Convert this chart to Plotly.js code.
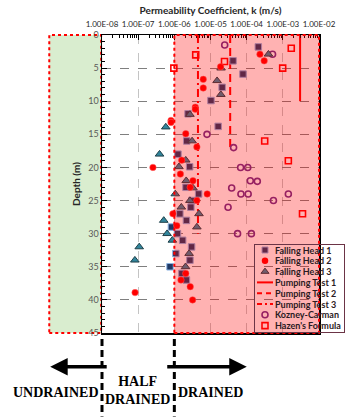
<!DOCTYPE html>
<html>
<head>
<meta charset="utf-8">
<script src="https://cdn.plot.ly/plotly-3.0.1.min.js"></script>
<style>html,body{margin:0;padding:0;background:#fff;}#chart{width:364px;height:418px;}</style>
</head>
<body>
<div id="chart"></div>
<script>
// ---- data ----
var fh1K = [2.1e-4, 4.2e-5, 7.9e-5, 2.1e-5, 1.03e-5, 2.4e-6, 1.63e-5, 2.2e-6, 1.26e-6, 2.65e-6, 2.1e-6, 4.7e-6, 3.05e-6, 2.86e-6, 1.42e-6, 2.16e-6, 8.3e-7, 1.22e-6, 1.7e-6, 3.0e-6, 1.1e-6, 2.7e-6, 7.6e-7, 1.62e-6, 2.16e-6];
var fh1Depth = [1.8, 3.9, 5.9, 7.9, 9.9, 11.9, 13.8, 16, 18, 19.9, 23, 24, 25, 26, 27, 28, 29, 30, 31, 32, 33, 34, 35, 36, 37];

var fh2K = [2.33e-4, 3.05e-4, 1.9e-5, 6.3e-6, 6.3e-6, 3.8e-6, 3.8e-6, 8.1e-7, 8.1e-7, 2.07e-6, 4.2e-6, 1.6e-6, 2.56e-7, 1.47e-6, 3.27e-6, 2.75e-6, 8.1e-6, 4.2e-6, 9.1e-7, 1.17e-6, 2.07e-6, 1.53e-6, 2.75e-6, 8.2e-8, 3.2e-6];
var fh2Depth = [2.9, 3.9, 4.8, 6.7, 8.0, 10.9, 11.2, 12.9, 13.2, 14.9, 16.9, 18.9, 20, 21, 22, 23, 24, 25, 27, 28.8, 36, 37, 38, 38.9, 40];

var fh3K = [4.0e-4, 1.96e-5, 1.52e-5, 1.93e-5, 2.7e-6, 5.8e-7, 3.1e-6, 3.9e-7, 2.07e-6, 1.34e-6, 2.13e-6, 3.27e-6, 1.06e-6, 2.7e-6, 1.56e-6, 4.8e-6, 5.1e-7, 4.2e-6, 6.3e-7, 8.8e-7, 1.07e-7, 2.56e-6, 8.1e-8, 2.04e-6];
var fh3Depth = [2.9, 5.0, 6.9, 9.0, 12.0, 13.9, 16, 18, 18.9, 19.9, 22, 23.1, 24, 25, 26, 27, 28, 29, 30, 31, 32, 33, 34, 35];

var pt1K = [3.0e-3, 3.0e-3];
var pt1Depth = [0, 10];
var pt2K = [3.5e-5, 3.5e-5];
var pt2Depth = [0, 17];
var pt3K = [4.5e-6, 4.5e-6];
var pt3Depth = [0, 30];

var kcK = [2.47e-5, 5.2e-4, 8.0e-6, 4.35e-5, 6.8e-5, 1.07e-4, 1.26e-4, 1.97e-4, 3.85e-5, 6.95e-5, 1.1e-4, 1.42e-3, 5.5e-4, 3.06e-5, 5.6e-5, 1.35e-4];
var kcDepth = [1.5, 2.9, 15, 17, 20, 20, 22, 22.1, 23.1, 24, 24, 24, 25, 26, 30, 30];

var hzK = [3.9e-6, 9.7e-7, 2.44e-5, 1.71e-3, 9.9e-4, 3.15e-4, 1.42e-3, 3.5e-3];
var hzDepth = [3, 5, 4, 2, 5, 16, 19, 27];

var xTickVals = [1e-8, 1e-7, 1e-6, 1e-5, 1e-4, 1e-3, 1e-2];
var xTickText = ['1.00E-08', '1.00E-07', '1.00E-06', '1.00E-05', '1.00E-04', '1.00E-03', '1.00E-02'];
var yTickVals = [0, 5, 10, 15, 20, 25, 30, 35, 40, 45];

var seriesNames = ['Falling Head 1', 'Falling Head 2', 'Falling Head 3', 'Pumping Test 1', 'Pumping Test 2', 'Pumping Test 3', 'Kozney-Carman', "Hazen's Formula"];
var zoneLabels = ['UNDRAINED', 'HALF<br>DRAINED', 'DRAINED'];

// ---- styling ----
var OVER_A = 0.3;
function blend(hex) {
  var r = parseInt(hex.substr(1, 2), 16), g = parseInt(hex.substr(3, 2), 16), b = parseInt(hex.substr(5, 2), 16);
  r = Math.round(r * (1 - OVER_A) + 255 * OVER_A); g = Math.round(g * (1 - OVER_A)); b = Math.round(b * (1 - OVER_A));
  return 'rgb(' + r + ',' + g + ',' + b + ')';
}
var C_FH1 = '#1F3864', C_FH1L = '#8EB4E3';
var C_FH2 = '#FF0000';
var C_FH3 = '#31859C', C_FH3L = '#1E3F48';
var C_KC = '#6A2E8C';
var C_HZ = '#FF0000';
var C_PT = '#FF0000';

function pts(x, y, marker, name) {
  return {type: 'scatter', mode: 'markers', x: x, y: y, name: name, showlegend: false, marker: marker, hoverinfo: 'skip'};
}
function line(x, y, dash, name) {
  return {type: 'scatter', mode: 'lines', x: x, y: y, name: name, showlegend: false, line: {color: C_PT, width: 2, dash: dash}, hoverinfo: 'skip'};
}
var mFH1 = {symbol: 'square', size: 6.5, color: C_FH1, line: {color: C_FH1L, width: 1}};
var mFH2 = {symbol: 'circle', size: 6.5, color: C_FH2, line: {color: '#FF7070', width: 0.5}};
var mFH3 = {symbol: 'triangle-up', size: 7.5, color: C_FH3, line: {color: C_FH3L, width: 1}};
var mKC = {symbol: 'circle-open', size: 6, color: C_KC, line: {color: C_KC, width: 1.6}};
var mHZ = {symbol: 'square-open', size: 6, color: C_HZ, line: {color: C_HZ, width: 1.6}};

var data = [
  line(pt1K, pt1Depth, 'solid', seriesNames[3]),
  line(pt2K, pt2Depth, '8px,5px', seriesNames[4]),
  line(pt3K, pt3Depth, '8px,4px,2px,4px', seriesNames[5]),
  pts(hzK, hzDepth, mHZ, seriesNames[7]),
  pts(kcK, kcDepth, mKC, seriesNames[6]),
  pts(fh1K, fh1Depth, mFH1, seriesNames[0]),
  pts(fh3K, fh3Depth, mFH3, seriesNames[2]),
  pts(fh2K, fh2Depth, mFH2, seriesNames[1])
];

// legend entries (colours as seen through the drained-zone overlay)
function legendEntry(name, mode, style) {
  var t = {type: 'scatter', mode: mode, x: [null], y: [null], name: name, showlegend: true, hoverinfo: 'skip'};
  if (mode === 'markers') t.marker = style; else t.line = style;
  return t;
}
data.push(legendEntry(seriesNames[0], 'markers', {symbol: 'square', size: 6, color: blend(C_FH1), line: {color: blend(C_FH1L), width: 1}}));
data.push(legendEntry(seriesNames[1], 'markers', {symbol: 'circle', size: 6.5, color: blend(C_FH2)}));
data.push(legendEntry(seriesNames[2], 'markers', {symbol: 'triangle-up', size: 7, color: blend(C_FH3), line: {color: blend(C_FH3L), width: 1}}));
data.push(legendEntry(seriesNames[3], 'lines', {color: C_PT, width: 2}));
data.push(legendEntry(seriesNames[4], 'lines', {color: C_PT, width: 2, dash: '5px,4px'}));
data.push(legendEntry(seriesNames[5], 'lines', {color: C_PT, width: 2, dash: '5px,3px,2px,3px'}));
data.push(legendEntry(seriesNames[6], 'markers', {symbol: 'circle-open', size: 6, color: blend(C_KC), line: {color: blend(C_KC), width: 1.6}}));
data.push(legendEntry(seriesNames[7], 'markers', {symbol: 'square-open', size: 6, color: C_HZ, line: {color: C_HZ, width: 1.6}}));

var FONT = 'Lato, "Open Sans", sans-serif';
var SERIF = '"Liberation Serif", "DejaVu Serif", serif';
var LEG_LEFT = 254, LEG_TOP = 244;

var layout = {
  width: 364, height: 418,
  margin: {l: 102, r: 19, t: 35, b: 82, pad: 0},
  paper_bgcolor: '#ffffff', plot_bgcolor: '#ffffff',
  font: {family: FONT, size: 9, color: '#404040'},
  showlegend: true,
  xaxis: {
    type: 'log', range: [-8, -2], side: 'top',
    tickmode: 'array', tickvals: xTickVals, ticktext: xTickText, tickangle: 0,
    tickfont: {family: FONT, size: 8, color: '#262626'}, ticklabelstandoff: 3,
    ticks: 'inside', ticklen: 5, tickcolor: '#000', tickwidth: 1,
    minor: {ticks: 'inside', ticklen: 3, tickcolor: '#000', dtick: 'D1', showgrid: false},
    showline: true, linecolor: '#000', linewidth: 1.5, mirror: true,
    showgrid: true, gridcolor: '#c4c4c4', griddash: 'dash', gridwidth: 1,
    zeroline: false,
    title: {text: '<b>Permeability Coefficient, k (m/s)</b>', font: {family: FONT, size: 10, color: '#262626'}, standoff: 3}
  },
  yaxis: {
    range: [45, 0], tickmode: 'array', tickvals: yTickVals,
    tickfont: {family: FONT, size: 9, color: '#595959'},
    ticks: 'inside', ticklen: 5, tickcolor: '#000',
    minor: {ticks: 'inside', ticklen: 3, tickcolor: '#000', dtick: 1, showgrid: false},
    showline: true, linecolor: '#000', linewidth: 1.5, mirror: true,
    showgrid: true, gridcolor: '#7f7f7f', griddash: 'dash', gridwidth: 1,
    zeroline: false,
    title: {text: '<b>Depth (m)</b>', font: {family: FONT, size: 10, color: '#262626'}, standoff: 5}
  },
  legend: {
    x: (LEG_LEFT - 102) / 243, y: (336 - LEG_TOP) / 301, xanchor: 'left', yanchor: 'top',
    bgcolor: 'rgba(0,0,0,0)', bordercolor: '#6b3446', borderwidth: 1,
    font: {family: FONT, size: 9, color: '#2b1a22', weight: 'bold'},
    traceorder: 'normal', itemwidth: 30
  },
  shapes: [
    {type: 'rect', xref: 'paper', yref: 'paper', x0: -0.243, x1: -0.004, y0: 0, y1: 1,
     fillcolor: '#d9edcf', line: {color: '#ff0000', width: 2, dash: 'dot'}, layer: 'below'},
    {type: 'rect', xref: 'paper', yref: 'paper', x0: 2 / 6, x1: 1, y0: 0, y1: 1,
     fillcolor: 'rgba(255,0,0,' + OVER_A + ')', line: {color: '#ff0000', width: 2, dash: 'dot'}, layer: 'above'},
    {type: 'line', xref: 'paper', yref: 'paper', x0: 0, x1: 0, y0: -0.02, y1: -0.28,
     line: {color: '#000', width: 3, dash: '7px,4px'}},
    {type: 'line', xref: 'paper', yref: 'paper', x0: 1 / 3, x1: 1 / 3, y0: -0.02, y1: -0.28,
     line: {color: '#000', width: 3, dash: '7px,4px'}}
  ],
  annotations: [
    {xref: 'paper', yref: 'paper', x: -0.2387, y: -0.113, ax: 58, ay: 0, text: '', showarrow: true,
     arrowhead: 2, arrowsize: 1, arrowwidth: 3.5, arrowcolor: '#000'},
    {xref: 'paper', yref: 'paper', x: 0.667, y: -0.113, ax: -81, ay: 0, text: '', showarrow: true,
     arrowhead: 2, arrowsize: 1, arrowwidth: 3.5, arrowcolor: '#000'},
    {xref: 'paper', yref: 'paper', x: -0.214, y: -0.199, text: '<b>' + zoneLabels[0] + '</b>', showarrow: false,
     font: {family: SERIF, size: 14, color: '#000'}, xanchor: 'center', yanchor: 'middle'},
    {xref: 'paper', yref: 'paper', x: 0.1646, y: -0.193, text: '<b>' + zoneLabels[1] + '</b>', showarrow: false,
     font: {family: SERIF, size: 14, color: '#000'}, xanchor: 'center', yanchor: 'middle'},
    {xref: 'paper', yref: 'paper', x: 0.498, y: -0.199, text: '<b>' + zoneLabels[2] + '</b>', showarrow: false,
     font: {family: SERIF, size: 14, color: '#000'}, xanchor: 'center', yanchor: 'middle'}
  ]
};

var gd = document.getElementById('chart');
Plotly.newPlot(gd, data, layout, {staticPlot: true, displayModeBar: false}).then(function () {
  // compact the legend rows and symbol column to the proportions of the reference
  var leg = gd.querySelector('g.legend');
  if (leg) leg.setAttribute('transform', 'translate(' + LEG_LEFT + ',' + LEG_TOP + ')');
  var traces = gd.querySelectorAll('.legend .traces');
  var top = 6, step = 10.8, textX = 20, maxW = 0;
  traces.forEach(function (t, i) {
    var tr = t.getAttribute('transform') || '';
    var m = /translate\(\s*([-\d.e]+)[ ,]+([-\d.e]+)\s*\)/.exec(tr);
    var x = m ? parseFloat(m[1]) : 0;
    t.setAttribute('transform', 'translate(' + x + ',' + (top + i * step) + ')');
    var txt = t.querySelector('text.legendtext');
    if (txt) {
      txt.setAttribute('x', textX);
      try { maxW = Math.max(maxW, txt.getBBox().width); } catch (e) {}
    }
    t.querySelectorAll('.legendlines path').forEach(function (p) { p.setAttribute('d', 'M2,0h16'); });
    t.querySelectorAll('.legendpoints path').forEach(function (p) { p.setAttribute('transform', 'translate(10,0)'); });
  });
  var bg = gd.querySelector('.legend rect.bg');
  if (bg) {
    bg.setAttribute('height', top * 2 + (traces.length - 1) * step);
    if (maxW > 0) bg.setAttribute('width', textX + maxW + 4);
  }
});
</script>
</body>
</html>
